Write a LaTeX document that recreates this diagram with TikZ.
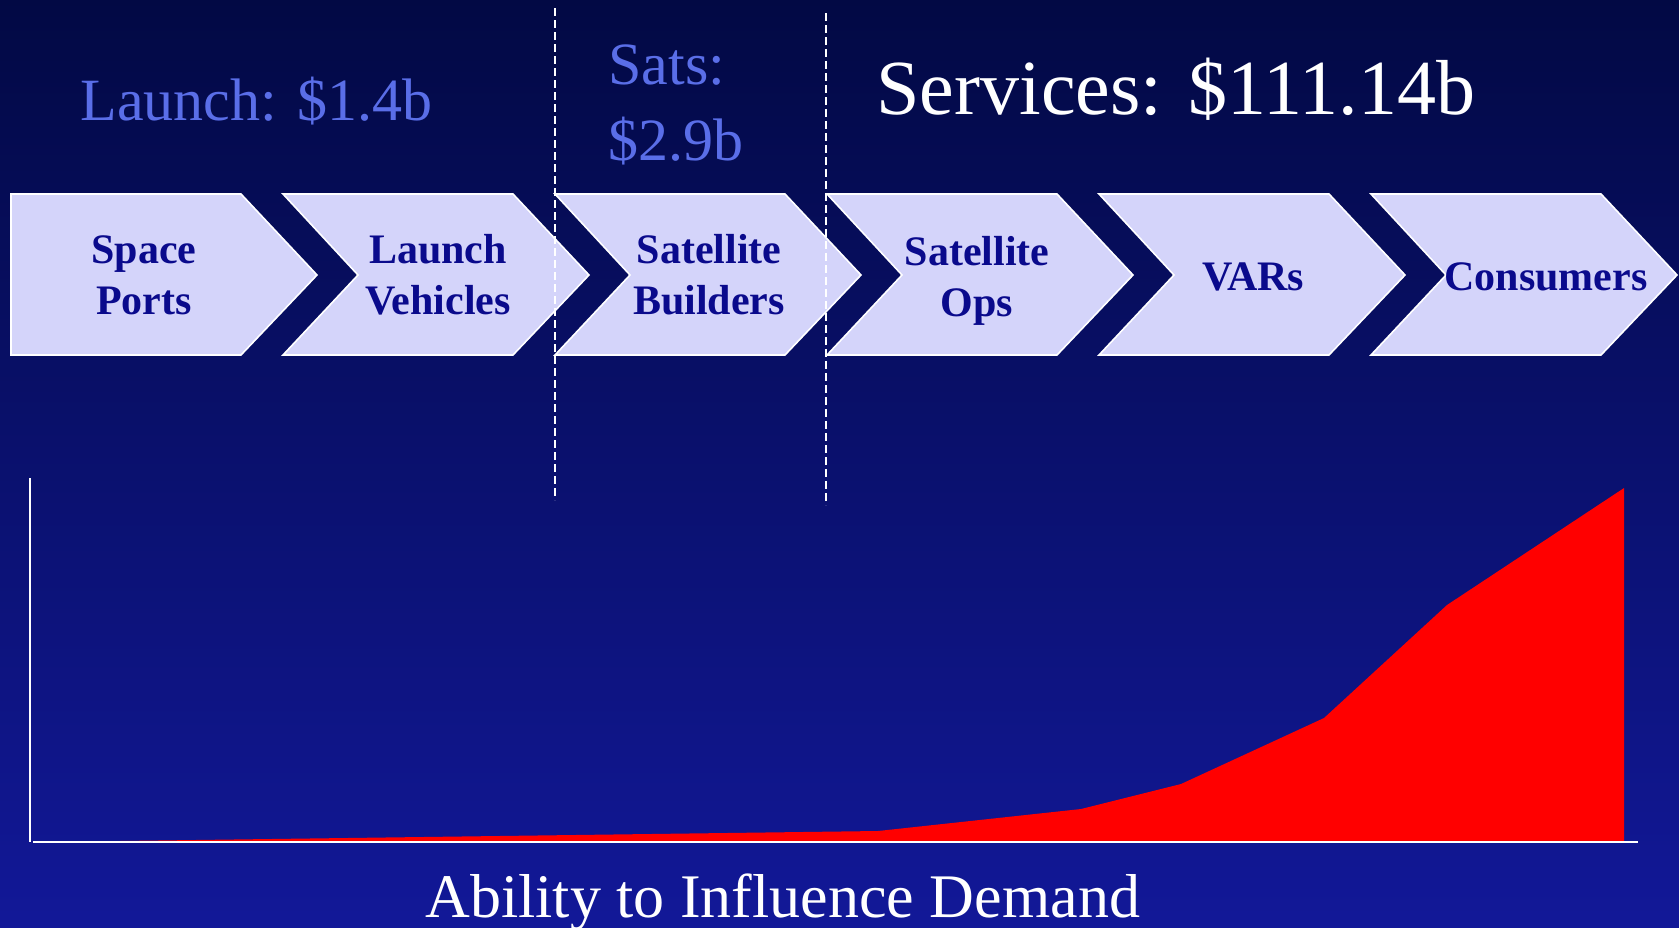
\documentclass[tikz,border=0pt]{standalone}
\usepackage{fontspec}
\setmainfont{Liberation Serif}
\usetikzlibrary{positioning}

\definecolor{bgtop}{RGB}{2,9,68}
\definecolor{bgmid}{RGB}{12,18,118}
\definecolor{bgbot}{RGB}{18,24,152}
\definecolor{chevfill}{RGB}{212,212,250}
\definecolor{chevtext}{RGB}{10,10,140}
\definecolor{valuetext}{RGB}{90,110,232}

\tikzset{
    x=0.5pt, y=-0.5pt,
    chevron/.style={fill=chevfill, draw=white, line width=0.8pt, line join=miter},
    stage/.style={font=\fontsize{21}{25.5}\selectfont\bfseries, text=chevtext, align=center, inner sep=0pt},
    value/.style={font=\fontsize{30}{36}\selectfont, text=valuetext, anchor=base west, inner sep=0pt},
    divider/.style={white, line width=0.75pt, dash pattern=on 4pt off 2pt},
    axis/.style={white, line width=0.7pt},
}

\begin{document}
\begin{tikzpicture}
    \useasboundingbox (0,0) rectangle (1679,927);
    \fill[top color=bgtop, middle color=bgmid, bottom color=bgbot] (0,0) rectangle (1679,927);

    % value chain, one chevron every 272px
    \foreach \i in {0,...,5} {
        \pgfmathsetmacro{\L}{11+272*\i}
        \ifnum\i=0
            \draw[chevron] (\L,194) -- (\L+230,194) -- (\L+306,275) -- (\L+230,355) -- (\L,355) -- cycle;
        \else
            \draw[chevron] (\L,194) -- (\L+230,194) -- (\L+306,275) -- (\L+230,355) -- (\L,355) -- (\L+75,275) -- cycle;
        \fi
    }
    \node[stage] (ports) at (144,275) {Space\\Ports};
    \node[stage] (vehicles) at (438,275) {Launch\\Vehicles};
    \node[stage] (builders) at (709,275) {Satellite\\Builders};
    \node[stage] (ops) at (977,281) {Satellite\\Ops}; % descender of "p" pushes it up
    \node[stage] (vars) at (1253,277) {VARs};
    \node[stage] (consumers) at (1546,277) {Consumers};

    % market sizes
    \node[value] (launch) at (80,120) {Launch: \$1.4b};
    \node[value] (sats) at (608,84) {Sats:};
    \node[value] (satsval) at (608,160) {\$2.9b};
    \node[value, text=white, font=\fontsize{39}{46}\selectfont] (services) at (876,114) {Services: \$111.14b};

    \coordinate (d1top) at (555,8);
    \coordinate (d1bot) at (555,500);
    \coordinate (d2top) at (826,13);
    \coordinate (d2bot) at (826,505);
    \draw[divider] (d1top) -- (d1bot);
    \draw[divider] (d2top) -- (d2bot);

    % demand curve
    \fill[red] (43,842) -- (878,831) -- (1081,809) -- (1181,784) -- (1324,718)
        -- (1447,605) -- (1624,488) -- (1624,842) -- cycle;
    \coordinate (origin) at (30,842);
    \coordinate (ytop) at (30,478);
    \coordinate (xend) at (1638,842);
    \draw[axis] (ytop) -- (origin);
    \draw[axis, line width=1pt] (origin) ++(3,0) -- (xend);

    \node[value, text=white, font=\fontsize{31}{36}\selectfont] (ability) at (425,917) {Ability to Influence Demand};
\end{tikzpicture}
\end{document}
